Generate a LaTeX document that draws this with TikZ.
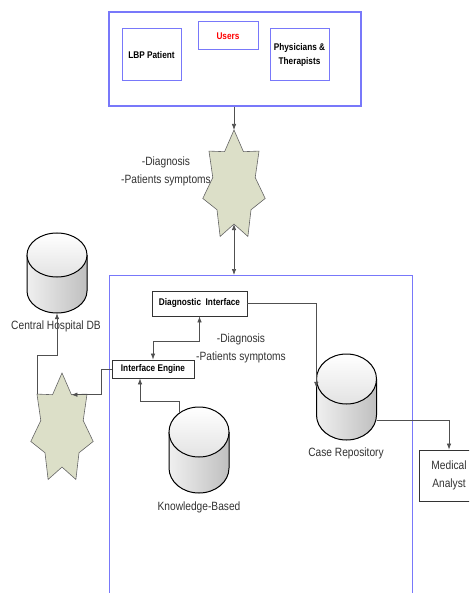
\documentclass[tikz,border=0pt]{standalone}
\usepackage{fontspec}
\setmainfont[FakeStretch=0.85]{Liberation Sans}
\usetikzlibrary{arrows.meta}
\definecolor{frameblue}{RGB}{120,120,250}
\definecolor{starfill}{RGB}{220,223,200}
\definecolor{linegray}{RGB}{80,80,80}
\definecolor{txtgray}{RGB}{50,50,50}
\newcommand\boldlbl{\fontsize{9.7}{14}\selectfont\bfseries}
\newcommand\reglbl{\fontsize{12}{18}\selectfont}
\tikzset{
 conn/.style={draw=linegray, line width=0.7pt},
 arr/.style={conn, -{Latex[length=6pt,width=4.5pt]}},
 darr/.style={conn, {Latex[length=6pt,width=4.5pt]}-{Latex[length=6pt,width=4.5pt]}},
 frame/.style={draw=frameblue, line width=1.1pt},
 ubox/.style={draw=frameblue, line width=1pt, fill=white, align=center, font=\boldlbl, inner sep=0pt},
 sbox/.style={draw=black!80, line width=0.8pt, fill=white, align=center, font=\boldlbl, inner sep=0pt},
 starsty/.style={draw=gray!80!black, fill=starfill, line width=0.6pt},
 cylline/.style={draw=black, line width=1pt},
 lbl/.style={text=txtgray, font=\reglbl, align=center, inner sep=0pt},
}
\newcommand\sevenstar[3]{%
 \begin{scope}[shift={(#2,#3)}, xscale=32, yscale=-56]
  \draw[starsty] (90:1) \foreach \i in {1,...,13}{ -- ({90+\i*360/14}:{ifthenelse(mod(\i,2)==0,1,0.68)}) } -- cycle;
  \coordinate (#1top) at (90:1);
  \coordinate (#1bot) at (270:0.68);
  \coordinate (#1ul) at (141.43:1);
  \coordinate (#1ur) at (64.29:0.68);
 \end{scope}}
\newcommand\dbcyl[5]{%
 \fill[left color=gray!12, right color=gray!50] (#2-30,#3+#5) -- (#2-30,#4-#5) arc[start angle=180,end angle=360,x radius=30pt,y radius=#5pt] -- (#2+30,#3+#5) -- cycle;
 \draw[cylline] (#2-30,#3+#5) -- (#2-30,#4-#5) arc[start angle=180,end angle=360,x radius=30pt,y radius=#5pt] -- (#2+30,#3+#5);
 \draw[cylline, top color=white, bottom color=gray!22] (#2,#3+#5) ellipse[x radius=30pt,y radius=#5pt];
 \node[inner sep=0pt, minimum width=60pt, minimum height={(#4-#3)*1pt}] (#1) at (#2,{(#3+#4)/2}) {};}
\begin{document}
\begin{tikzpicture}[x=1pt,y=-1pt]
\useasboundingbox (0,0) rectangle (469,593);
\clip (0,0) rectangle (469,593);
% frames
\node[frame, minimum width=252pt, minimum height=94pt, inner sep=0pt] (grp) at (235,59) {};
\node[frame, minimum width=303pt, minimum height=330pt, inner sep=0pt, anchor=north west] (sys) at (109,275) {};
% user boxes
\node[ubox, minimum width=59pt, minimum height=52pt] (lbp) at (151.5,55) {LBP Patient};
\node[ubox, minimum width=60pt, minimum height=28pt, text=red] (users) at (228,36) {Users};
\node[ubox, minimum width=59pt, minimum height=52pt] (phys) at (299.5,55) {Physicians \&\\Therapists};
% stars
\sevenstar{Sa}{234}{186}
\sevenstar{Sb}{62}{429}
\node[lbl] (lab1) at (166,171) {-Diagnosis\\-Patients symptoms};
% cylinders
\dbcyl{CH}{57}{233}{313}{22}
\dbcyl{KB}{199}{407}{493}{25}
\dbcyl{CR}{346.5}{354}{440}{25}
\node[lbl] (chl) at (56,326) {Central Hospital DB};
\node[lbl] (kbl) at (199,507) {Knowledge-Based};
\node[lbl] (crl) at (346,453) {Case Repository};
% system boxes
\node[sbox, minimum width=95pt, minimum height=25pt] (DI) at (199.5,303.5) {Diagnostic\ \ Interface};
\node[sbox, minimum width=82pt, minimum height=18pt] (IE) at (153,369) {Interface Engine};
\node[sbox, minimum width=60pt, minimum height=51pt, font=\reglbl, text=txtgray] (MA) at (449,475.5) {Medical\\Analyst};
\node[lbl] (lab2) at (241,348) {-Diagnosis\\-Patients symptoms};
% connectors
\draw[arr] (grp.south -| Satop) -- (Satop);
\draw[darr] (Sabot) -- (Sabot |- sys.north);
\draw[darr] (DI.south) -- ++(0,25) -| (IE.north);
\coordinate (CRin) at ([yshift=-34pt]CR.north west);
\draw[arr] (DI.east) -| (CRin);
\draw[arr] ([yshift=-23pt]CR.east) -| (MA.north);
\coordinate (KBin) at ([xshift=-20pt,yshift=-6pt]KB.north);
\draw[arr] (KBin) -- ++(0,-11) -| ([xshift=-13pt]IE.south);
\draw[arr] (IE.west) -- ++(-10,0) |- (Sbur);
\draw[arr] (Sbul) -- ++(0,-39) -| (CH.south);
\end{tikzpicture}
\end{document}
